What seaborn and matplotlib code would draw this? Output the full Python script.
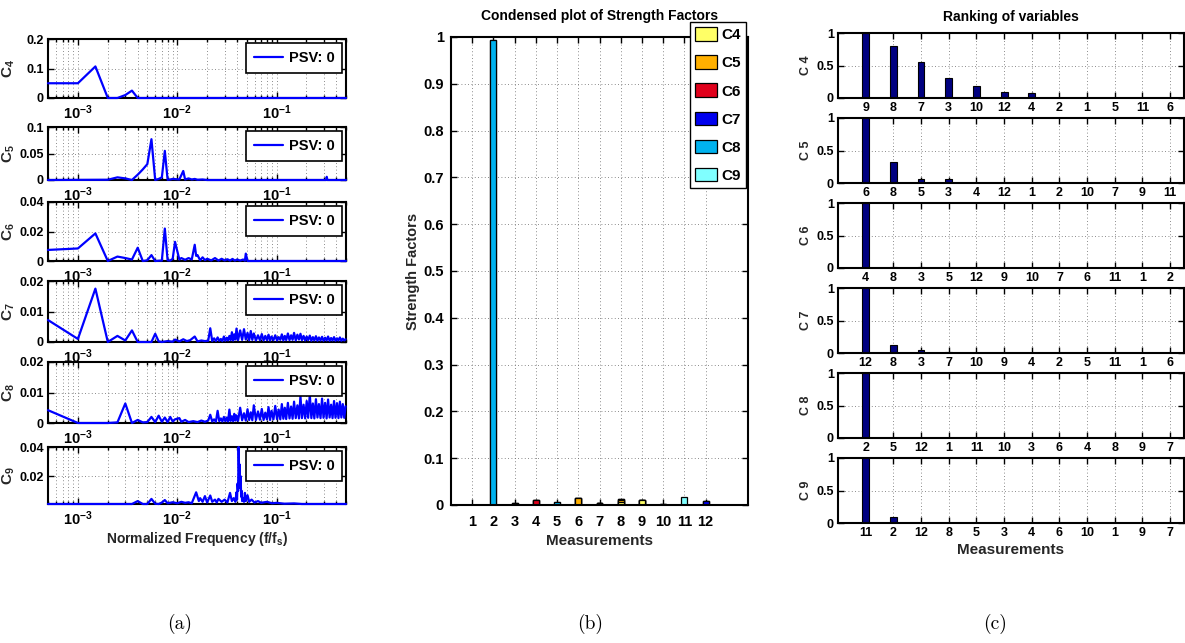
import numpy as np
import pandas as pd
import matplotlib
matplotlib.use("Agg")
import matplotlib.pyplot as plt
import seaborn as sns
from matplotlib.patches import Patch
from matplotlib import font_manager

# ---------------- data ----------------
# (a) spectra: (normalized frequency, value in units of 1e-3)
c4_pts = [(5e-4, 50), (1e-3, 50), (1.5e-3, 107), (2e-3, 0), (2.5e-3, 0), (3e-3, 10),
          (3.5e-3, 25), (4e-3, 0), (0.5, 0)]
c5_pts = [(5e-4, 0), (2e-3, 0.5), (2.5e-3, 5), (3e-3, 3), (3.5e-3, 0), (4e-3, 10), (4.5e-3, 20),
          (5e-3, 30), (5.5e-3, 77), (6e-3, 0), (6.5e-3, 2), (7e-3, 5), (7.5e-3, 55), (8e-3, 0.5),
          (8.5e-3, 1), (9e-3, 2), (1.05e-2, 1), (1.15e-2, 17), (1.2e-2, 1), (1.3e-2, 3), (1.4e-2, 1),
          (1.5e-2, 2), (1.6e-2, 0.5), (1.8e-2, 1), (2e-2, 0), (0.315, 0), (0.32, 6), (0.325, 0), (0.5, 0)]
c6_pts = [(5e-4, 7.5), (1e-3, 8.5), (1.5e-3, 18.7), (2e-3, 0), (2.5e-3, 3), (3e-3, 2), (3.5e-3, 1),
          (4e-3, 9), (4.5e-3, 0), (5e-3, 0.5), (5.5e-3, 4), (6e-3, 0), (6.5e-3, 0.2), (7e-3, 0.3),
          (7.5e-3, 22), (8e-3, 0.5), (8.5e-3, 0.3), (9e-3, 1.5), (9.5e-3, 13), (1.05e-2, 1), (1.1e-2, 2),
          (1.2e-2, 0.8), (1.3e-2, 2), (1.4e-2, 1), (1.5e-2, 11), (1.55e-2, 3.5), (1.6e-2, 4), (1.7e-2, 0.5),
          (1.8e-2, 2.5), (1.9e-2, 0.6), (2e-2, 1.5), (2.2e-2, 0.4), (2.4e-2, 2), (2.6e-2, 0.3), (2.8e-2, 1.5),
          (3e-2, 0.4), (3.2e-2, 1.2), (3.4e-2, 0.3), (3.6e-2, 1.4), (3.8e-2, 0.3), (4e-2, 1), (4.3e-2, 0.3),
          (4.6e-2, 1), (4.8e-2, 0.2), (4.9e-2, 5), (5.1e-2, 0), (0.5, 0)]
c7_low = [(5e-4, 7.2), (1e-3, 1), (1.5e-3, 17.5), (2e-3, 0), (2.5e-3, 2), (3e-3, 0.5), (3.5e-3, 3.8),
          (4e-3, 0), (5.5e-3, 0), (6e-3, 2.7), (6.5e-3, 0.2), (7e-3, 0), (8e-3, 0.3), (9e-3, 0.1),
          (9.5e-3, 0.8), (1.05e-2, 0.2), (1.15e-2, 0.9), (1.25e-2, 0.3), (1.35e-2, 0.6), (1.5e-2, 1.8),
          (1.6e-2, 0.2), (1.75e-2, 0.5), (1.9e-2, 0.3)]
c8_low = [(5e-4, 4.2), (1e-3, 0), (1.5e-3, 0), (2e-3, 0), (2.5e-3, 0.2), (3e-3, 6.4), (3.5e-3, 0),
          (4e-3, 1.0), (4.5e-3, 0.2), (5e-3, 0.3), (5.5e-3, 2.0), (6e-3, 0.3), (6.5e-3, 2.4), (7e-3, 0.4),
          (7.5e-3, 1.8), (8e-3, 0.3), (8.5e-3, 2.0), (9e-3, 0.5), (9.5e-3, 1.2), (1.05e-2, 1.6),
          (1.1e-2, 0.4), (1.2e-2, 1.0), (1.3e-2, 0.3), (1.45e-2, 0.6), (1.6e-2, 0.3), (1.75e-2, 0.8),
          (1.9e-2, 0.4)]
# shared high-frequency sample bins for C7 and C8
hf = [0.0205, 0.0215, 0.0225, 0.0235, 0.0245, 0.0255, 0.0265, 0.0275, 0.0285, 0.0295,
      0.0305, 0.0315, 0.0325, 0.0335, 0.0345, 0.0355, 0.0365, 0.0375, 0.0385, 0.0395,
      0.041, 0.043, 0.045, 0.047, 0.049, 0.051, 0.053, 0.055, 0.057, 0.059,
      0.062, 0.065, 0.068, 0.071, 0.074, 0.077, 0.080, 0.083, 0.086, 0.089,
      0.093, 0.097, 0.101, 0.105, 0.109, 0.113, 0.117, 0.121, 0.125, 0.130,
      0.135, 0.140, 0.145, 0.150, 0.156, 0.162, 0.168, 0.174, 0.180, 0.187,
      0.194, 0.201, 0.208, 0.216, 0.224, 0.232, 0.240, 0.249, 0.258, 0.267,
      0.277, 0.287, 0.297, 0.308, 0.319, 0.330, 0.342, 0.354, 0.366, 0.379,
      0.392, 0.406, 0.420, 0.434, 0.449, 0.464, 0.480, 0.495]
c7_high = [0.4, 4.5, 0.3, 1.2, 0.3, 1.5, 0.4, 1.0, 0.3, 1.8,
           0.4, 1.4, 0.5, 2.0, 0.6, 3.2, 0.5, 2.5, 0.8, 4.4,
           0.6, 3.8, 0.7, 4.2, 0.8, 3.0, 0.6, 3.6, 0.7, 2.8,
           0.5, 2.2, 0.6, 2.6, 0.5, 2.0, 0.6, 2.4, 0.5, 1.8,
           0.6, 2.2, 0.5, 1.6, 0.7, 2.5, 0.5, 2.0, 0.6, 2.8,
           0.6, 2.2, 0.7, 3.0, 0.5, 2.4, 0.8, 2.7, 0.6, 2.0,
           0.5, 1.8, 0.6, 2.1, 0.4, 1.6, 0.5, 1.9, 0.4, 1.5,
           0.5, 1.7, 0.4, 1.4, 0.5, 1.8, 0.4, 1.3, 0.5, 1.6,
           0.4, 1.2, 0.5, 1.5, 0.4, 1.1, 0.5, 0.9]
c8_high = [0.8, 2.7, 0.5, 1.2, 0.4, 4.0, 0.6, 1.5, 0.5, 2.0,
           0.6, 1.8, 0.5, 4.4, 0.7, 2.2, 0.6, 3.0, 0.8, 2.5,
           0.7, 5.0, 0.9, 3.2, 0.8, 4.5, 1.0, 3.5, 0.9, 5.8,
           1.0, 3.8, 1.1, 4.6, 1.0, 3.4, 1.2, 5.2, 1.0, 4.0,
           1.2, 5.6, 1.3, 4.4, 1.2, 6.2, 1.4, 5.0, 1.3, 6.6,
           1.5, 5.4, 1.4, 7.0, 1.6, 5.8, 1.5, 8.8, 1.6, 6.0,
           1.5, 7.2, 1.7, 9.3, 1.6, 6.4, 1.5, 7.8, 1.8, 6.2,
           1.6, 8.0, 1.7, 6.6, 1.5, 7.7, 1.8, 6.0, 1.6, 7.2,
           1.7, 6.5, 1.6, 7.0, 1.8, 6.2, 1.7, 5.5]
c9_pts = [(5e-4, 1), (3.5e-3, 1), (4e-3, 3), (4.5e-3, 1), (5e-3, 1), (5.5e-3, 4.5), (6e-3, 1.2),
          (6.5e-3, 1), (7e-3, 2), (7.5e-3, 3.7), (8e-3, 1.5), (9e-3, 2.2), (1e-2, 1.5), (1.1e-2, 2.5),
          (1.2e-2, 1.8), (1.3e-2, 2.2), (1.4e-2, 1.5), (1.55e-2, 9), (1.65e-2, 3), (1.7e-2, 5),
          (1.8e-2, 2.5), (1.9e-2, 6.4), (2e-2, 2), (2.15e-2, 6.8), (2.25e-2, 2.5), (2.4e-2, 4),
          (2.5e-2, 2), (2.6e-2, 4.5), (2.8e-2, 2.5), (3e-2, 4), (3.2e-2, 2), (3.4e-2, 8.6),
          (3.55e-2, 3), (3.7e-2, 5), (3.85e-2, 2.5), (3.95e-2, 9), (4e-2, 4), (4.05e-2, 15),
          (4.1e-2, 10), (4.15e-2, 40), (4.2e-2, 22), (4.25e-2, 28), (4.3e-2, 12), (4.35e-2, 20),
          (4.4e-2, 6), (4.45e-2, 10), (4.5e-2, 3), (4.6e-2, 5), (4.7e-2, 2.5), (4.8e-2, 8.6),
          (4.9e-2, 3), (5.1e-2, 7), (5.3e-2, 2.5), (5.6e-2, 4), (6e-2, 2), (6.5e-2, 3), (7e-2, 1.8),
          (8e-2, 2.5), (9e-2, 1.5), (0.1, 1.8), (0.12, 1.2), (0.15, 1.4), (0.18, 1), (0.5, 1)]

spec_names = ['4', '5', '6', '7', '8', '9']
spec_yticks = [[0, 0.1, 0.2], [0, 0.05, 0.1], [0, 0.02, 0.04], [0, 0.01, 0.02], [0, 0.01, 0.02], [0.02, 0.04]]
spec_yticklabels = [['0', '0.1', '0.2'], ['0', '0.05', '0.1'], ['0', '0.02', '0.04'],
                    ['0', '0.01', '0.02'], ['0', '0.01', '0.02'], ['0.02', '0.04']]
spec_ylims = [(0, 0.2), (0, 0.1), (0, 0.04), (0, 0.02), (0, 0.02), (0.001, 0.04)]

# (b) strength factors (units of 1e-3), measurements 1..12
measurements = list(range(1, 13))
comps = ['C4', 'C5', 'C6', 'C7', 'C8', 'C9']
sf_c4 = [0.5, 0, 2, 0.5, 0, 0, 4, 6, 10, 1, 0, 0]
sf_c5 = [0, 0, 1, 0, 1, 16, 0, 5, 0, 0, 0, 0]
sf_c6 = [0, 0, 0, 11, 0, 0, 0, 0, 0, 0, 0, 0]
sf_c7 = [0.5, 0, 1, 0, 0, 0, 1, 2, 0, 1, 0, 8]
sf_c8 = [0, 993, 0, 0, 6, 0, 0, 0, 0, 0, 0, 0]
sf_c9 = [0, 0, 0, 0, 0, 0, 0, 0, 0, 0, 18, 0]
comp_colors = ['#FFFF66', '#FFB000', '#E0001B', '#0000EE', '#00B2EE', '#80FFFF']

# (c) rankings
rank_c4 = [9, 8, 7, 3, 10, 12, 4, 2, 1, 5, 11, 6]
val_c4 = [1, 0.8, 0.55, 0.31, 0.19, 0.1, 0.07, 0, 0, 0, 0, 0]
rank_c5 = [6, 8, 5, 3, 4, 12, 1, 2, 10, 7, 9, 11]
val_c5 = [1, 0.32, 0.06, 0.06, 0, 0, 0, 0, 0, 0, 0, 0]
rank_c6 = [4, 8, 3, 5, 12, 9, 10, 7, 6, 11, 1, 2]
val_c6 = [1, 0.01, 0.01, 0, 0, 0, 0, 0, 0, 0, 0, 0]
rank_c7 = [12, 8, 3, 7, 10, 9, 4, 2, 5, 11, 1, 6]
val_c7 = [1, 0.12, 0.05, 0.01, 0.005, 0.005, 0, 0, 0, 0, 0, 0]
rank_c8 = [2, 5, 12, 1, 11, 10, 3, 6, 4, 8, 9, 7]
val_c8 = [1, 0, 0, 0, 0, 0, 0, 0, 0, 0, 0, 0]
rank_c9 = [11, 2, 12, 8, 5, 3, 4, 6, 10, 1, 9, 7]
val_c9 = [1, 0.1, 0.003, 0, 0, 0, 0, 0, 0, 0, 0, 0]

# ---------------- style ----------------
sns.set_theme(style="white")
names = {f.name for f in font_manager.fontManager.ttflist}
main_font = 'Liberation Sans Narrow' if 'Liberation Sans Narrow' in names else 'Liberation Sans'
plt.rcParams['font.family'] = [main_font, 'DejaVu Sans']
plt.rcParams['font.weight'] = 'bold'
plt.rcParams['axes.labelweight'] = 'bold'
plt.rcParams['axes.titleweight'] = 'bold'
plt.rcParams['mathtext.fontset'] = 'custom'
plt.rcParams['mathtext.rm'] = main_font + ':bold'
plt.rcParams['mathtext.bf'] = main_font + ':bold'
plt.rcParams['mathtext.it'] = main_font + ':bold'
plt.rcParams['axes.edgecolor'] = 'black'
plt.rcParams['axes.linewidth'] = 1.5
plt.rcParams['text.color'] = 'black'
plt.rcParams['xtick.color'] = 'black'
plt.rcParams['ytick.color'] = 'black'

W, H = 1185, 643
fig = plt.figure(figsize=(W / 100, H / 100), dpi=100)
fig.patch.set_facecolor('white')


def px_rect(l, t, r, b):
    return [l / W, 1 - b / H, (r - l) / W, (b - t) / H]


grid_kw = dict(color='#666666', linestyle=(0, (1, 3)), linewidth=0.6)

# ---------------- panel (a) ----------------
a_tops = [39, 127, 202, 281, 362, 447]
a_bots = [98, 180, 261, 342, 423, 504]
spec_series = [c4_pts, c5_pts, c6_pts,
               c7_low + list(zip(hf, c7_high)),
               c8_low + list(zip(hf, c8_high)),
               c9_pts]
for i, pts in enumerate(spec_series):
    ax = fig.add_axes(px_rect(48, a_tops[i], 346, a_bots[i]))
    ax.set_facecolor('white')
    f, v = zip(*pts)
    df = pd.DataFrame({'f': f, 'v': np.array(v) * 1e-3})
    sns.lineplot(data=df, x='f', y='v', ax=ax, color='#0000FF', linewidth=1.6,
                 estimator=None, sort=False, label='PSV: 0')
    ax.lines[0].set_zorder(3)
    ax.lines[0].set_clip_on(False)
    ax.set_xscale('log')
    ax.set_xlim(5e-4, 0.5)
    ax.set_ylim(*spec_ylims[i])
    ax.set_yticks(spec_yticks[i])
    ax.set_yticklabels(spec_yticklabels[i])
    ax.set_xlabel('')
    ax.set_ylabel(r'$\mathbf{C_{%s}}$' % spec_names[i], fontsize=11)
    ax.yaxis.set_label_coords(-0.104, 0.5)
    ax.tick_params(which='both', direction='in', top=True, right=True, bottom=True, left=True,
                   labelsize=9, width=1)
    ax.tick_params(which='major', length=4, pad=3)
    ax.tick_params(which='minor', length=2)
    ax.tick_params(axis='x', which='major', labelsize=10.5, pad=4)
    ax.grid(True, which='both', axis='x', **grid_kw)
    ax.grid(True, which='major', axis='y', **grid_kw)
    leg = ax.legend(loc='upper right', frameon=True, fancybox=False, edgecolor='black',
                    framealpha=1, prop={'weight': 'bold', 'size': 10.5}, borderaxespad=0.25,
                    handlelength=2.0, borderpad=0.55, handletextpad=0.4)
    leg.get_frame().set_linewidth(1.2)
    if i == 5:
        ax.set_xlabel(r'Normalized Frequency (f/f$_{\mathbf{s}}$)', fontsize=10, labelpad=1)

# ---------------- panel (b) ----------------
axb = fig.add_axes(px_rect(451, 37, 748, 505))
sf_mat = np.array([sf_c4, sf_c5, sf_c6, sf_c7, sf_c8, sf_c9]) * 1e-3
cum = np.cumsum(sf_mat, axis=0)
for j in reversed(range(6)):
    sns.barplot(x=measurements, y=cum[j], native_scale=True, width=0.28, color=comp_colors[j],
                saturation=1, edgecolor='black', linewidth=0.9, errorbar=None, ax=axb)
axb.set_xlim(0, 14)
axb.set_ylim(0, 1)
axb.set_xticks(measurements)
axb.set_xticklabels([str(m) for m in measurements])
yt = [round(0.1 * k, 1) for k in range(11)]
axb.set_yticks(yt)
axb.set_yticklabels(['0'] + ['%.1f' % t for t in yt[1:-1]] + ['1'])
axb.tick_params(direction='in', top=True, right=True, bottom=True, left=True, length=4,
                labelsize=10.5, width=1, pad=5)
axb.tick_params(axis='x', pad=7)
axb.grid(True, axis='both', **grid_kw)
axb.set_axisbelow(True)
axb.set_xlabel('Measurements', fontsize=11, labelpad=4)
axb.set_ylabel('Strength Factors', fontsize=10.5)
axb.yaxis.set_label_coords(-0.103, 0.5)
axb.set_title('Condensed plot of Strength Factors', fontsize=10, pad=12)
handles = [Patch(facecolor=c, edgecolor='black', linewidth=0.9, label=n) for c, n in zip(comp_colors, comps)]
legb = fig.legend(handles=handles, loc='upper right', bbox_to_anchor=(746 / W, 1 - 22 / H),
                  frameon=True, fancybox=False, edgecolor='black', framealpha=1,
                  prop={'weight': 'bold', 'size': 11}, handlelength=1.45, handleheight=1.0,
                  labelspacing=0.85, handletextpad=0.25, borderpad=0.35, borderaxespad=0)
legb.get_frame().set_linewidth(1.0)

# ---------------- panel (c) ----------------
c_tops = [33, 118, 203, 288, 373, 458]
c_bots = [98, 183, 268, 353, 438, 523]
ranks = [rank_c4, rank_c5, rank_c6, rank_c7, rank_c8, rank_c9]
rvals = [val_c4, val_c5, val_c6, val_c7, val_c8, val_c9]
for i in range(6):
    ax = fig.add_axes(px_rect(838, c_tops[i], 1184, c_bots[i]))
    ax.set_facecolor('white')
    lab = [str(r) for r in ranks[i]]
    df = pd.DataFrame({'m': lab, 'v': rvals[i]})
    sns.barplot(data=df, x='m', y='v', order=lab, color='#000080', saturation=1, width=0.25,
                edgecolor='black', linewidth=0.8, errorbar=None, ax=ax)
    ax.set_xlim(-1, 11.5)
    ax.set_ylim(0, 1)
    ax.set_yticks([0, 0.5, 1])
    ax.set_yticklabels(['0', '0.5', '1'])
    ax.tick_params(direction='in', top=True, right=True, bottom=True, left=True, length=4,
                   labelsize=9, width=1, pad=3)
    ax.grid(True, axis='both', **grid_kw)
    ax.set_axisbelow(True)
    ax.set_xlabel('')
    ax.set_ylabel('C %s' % spec_names[i], fontsize=9)
    ax.yaxis.set_label_coords(-0.075, 0.5)
    if i == 0:
        ax.set_title('Ranking of variables', fontsize=10, pad=9)
    if i == 5:
        ax.set_xlabel('Measurements', fontsize=11, labelpad=3)

# ---------------- captions ----------------
for x, t in [(180, '(a)'), (590, '(b)'), (995, '(c)')]:
    fig.text(x / W, 1 - 624 / H, t, family='cmr10', fontsize=14, ha='center', va='center',
             fontweight='normal')

fig.savefig('out.png', dpi=100, facecolor='white')
